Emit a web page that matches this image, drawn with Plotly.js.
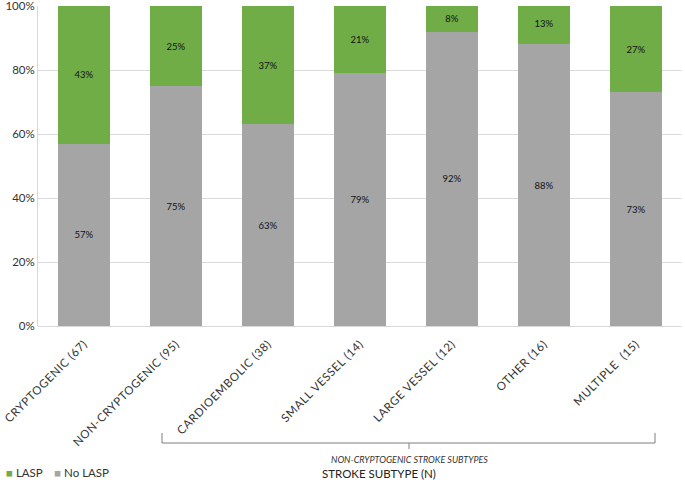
<!DOCTYPE html>
<html>
<head>
<meta charset="utf-8">
<script src="https://cdn.plot.ly/plotly-3.0.1.min.js"></script>
<style>html,body{margin:0;padding:0;background:#fff;}#chart{width:685px;height:483px;}
.xtick text{letter-spacing:0.6px;}</style>
</head>
<body>
<div id="chart"></div>
<script>
const categories = ['CRYPTOGENIC (67)', 'NON-CRYPTOGENIC (95)', 'CARDIOEMBOLIC (38)', 'SMALL VESSEL (14)', 'LARGE VESSEL (12)', 'OTHER (16)', 'MULTIPLE  (15)'];
const noLasp = [57, 75, 63, 79, 92, 88, 73];
const lasp = [43, 25, 37, 21, 8, 13, 27];
const yTickVals = [0, 20, 40, 60, 80, 100];
const yTickText = ['0%', '20%', '40%', '60%', '80%', '100%'];
const seriesNames = ['No LASP', 'LASP'];
const seriesColors = ['#a5a5a5', '#70ad47'];

const FONT = 'Lato, "Open Sans", sans-serif';
const W = 685, H = 483, L = 38, R = 3, T = 6, B = 157;
const pw = W - L - R, ph = H - T - B;
const px = x => (x - L) / pw;
const py = y => (H - B - y) / ph;

const traces = [noLasp, lasp].map((vals, i) => ({
  type: 'bar', name: seriesNames[i], x: categories, y: vals,
  marker: {color: seriesColors[i]}, text: vals.map(v => v + '%'),
  textposition: 'inside', insidetextanchor: 'middle',
  textfont: {family: FONT, size: 9.5, color: '#111'}, hoverinfo: 'skip', showlegend: false
}));

const lc = '#7f7f7f';
const legendText = `<span style="color:${seriesColors[1]}">■</span> ${seriesNames[1]}    <span style="color:${seriesColors[0]}">■</span> ${seriesNames[0]}`;

const layout = {
  width: W, height: H,
  margin: {l: L, r: R, t: T, b: B, pad: 0},
  barmode: 'stack', bargap: 0.435,
  paper_bgcolor: '#fff', plot_bgcolor: '#fff',
  font: {family: FONT, color: '#333'},
  uniformtext: {mode: 'show', minsize: 9},
  xaxis: {tickangle: -45, tickfont: {family: FONT, size: 11.5, color: '#333'},
          showline: false, ticks: '', automargin: false, ticklabelstandoff: 8},
  yaxis: {range: [0, 100.0001], tickvals: yTickVals, ticktext: yTickText,
          tickfont: {family: FONT, size: 11.5, color: '#333'},
          gridcolor: '#d9d9d9', gridwidth: 1, showline: true, linecolor: '#d9d9d9',
          zeroline: true, zerolinecolor: '#d9d9d9', ticks: '', ticklen: 0,
          automargin: false, ticklabeloverflow: 'allow'},
  showlegend: false,
  shapes: [
    {type: 'path', xref: 'paper', yref: 'paper',
     path: `M ${px(162)} ${py(433)} L ${px(162)} ${py(443)} L ${px(655)} ${py(443)} L ${px(655)} ${py(433)}`,
     line: {color: lc, width: 1}},
    {type: 'line', xref: 'paper', yref: 'paper', x0: px(409), x1: px(409), y0: py(443), y1: py(449),
     line: {color: lc, width: 1}}
  ],
  annotations: [
    {xref: 'paper', yref: 'paper', x: px(409), y: py(459), text: '<i>NON-CRYPTOGENIC STROKE SUBTYPES</i>',
     showarrow: false, xanchor: 'center', yanchor: 'middle', font: {family: FONT, size: 9, color: '#333'}},
    {xref: 'paper', yref: 'paper', x: px(320), y: py(473), text: 'STROKE SUBTYPE (N)',
     showarrow: false, xanchor: 'left', yanchor: 'middle', font: {family: FONT, size: 11.5, color: '#222'}},
    {xref: 'paper', yref: 'paper', x: px(4), y: py(472), text: legendText,
     showarrow: false, xanchor: 'left', yanchor: 'middle', font: {family: FONT, size: 11.5, color: '#333'}}
  ]
};

Plotly.newPlot('chart', traces, layout, {displayModeBar: false, staticPlot: true});
</script>
</body>
</html>
